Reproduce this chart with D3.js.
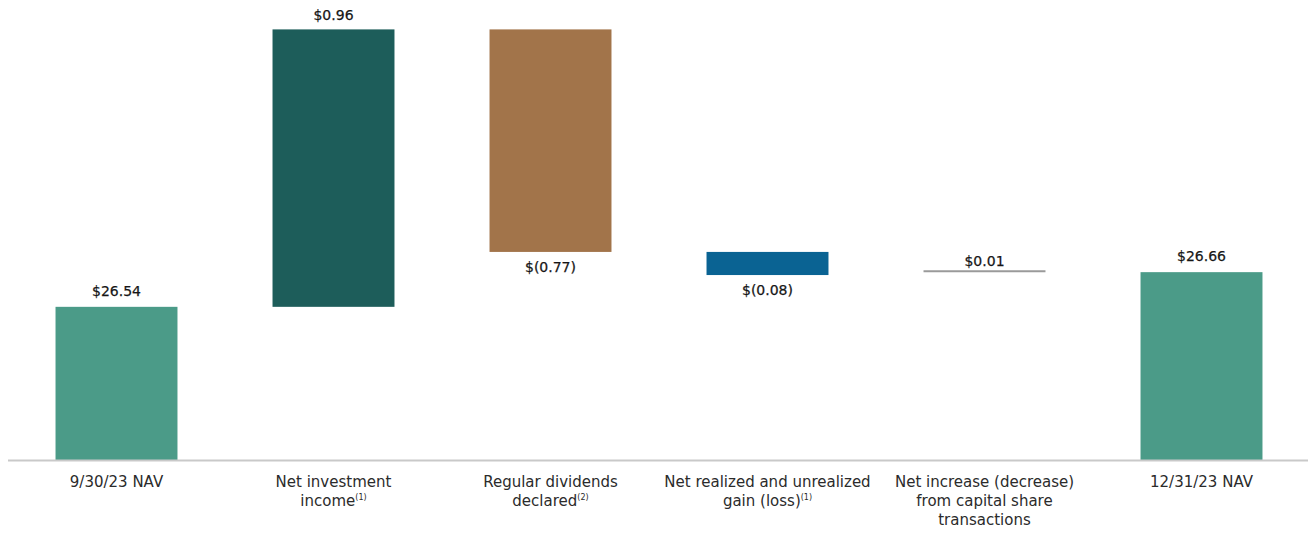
<!DOCTYPE html>
<html>
<head>
<meta charset="utf-8">
<script src="https://cdn.jsdelivr.net/npm/d3@7"></script>
<style>
  html, body { margin: 0; padding: 0; background: #ffffff; }
  svg { display: block; }
  text { font-family: "DejaVu Sans", Verdana, sans-serif; }
</style>
</head>
<body>
<svg id="chart" width="1308" height="535"></svg>
<script>
// ---- Data ----
const categoryLines = [
  ["9/30/23 NAV"],
  ["Net investment", "income"],
  ["Regular dividends", "declared"],
  ["Net realized and unrealized", "gain (loss)"],
  ["Net increase (decrease)", "from capital share", "transactions"],
  ["12/31/23 NAV"]
];
const footnotes = ["", "(1)", "(2)", "(1)", "", ""];
const values = [26.54, 0.96, -0.77, -0.08, 0.01, 26.66];
const kinds = ["total", "delta", "delta", "delta", "delta", "total"];
const valueLabels = ["$26.54", "$0.96", "$(0.77)", "$(0.08)", "$0.01", "$26.66"];
const barColors = ["#4b9b88", "#1d5d5a", "#a2744a", "#0a6393", "#9a9a9a", "#4b9b88"];

// ---- Layout ----
const W = 1308, H = 535;
const baselineY = 460;
const svg = d3.select("#chart");

// waterfall computation
let running = 0;
const bars = values.map((v, i) => {
  let start, end;
  if (kinds[i] === "total") { start = null; end = v; running = v; }
  else { start = running; end = running + v; running = end; }
  return { i, v, kind: kinds[i], start, end, label: valueLabels[i], color: barColors[i] };
});

const x = d3.scaleBand()
  .domain(d3.range(values.length))
  .range([8, 1310])
  .paddingInner(0.438)
  .paddingOuter(0.219);

const y = d3.scaleLinear()
  .domain([26.01, 27.50])
  .range([baselineY, 29.4]);

// bars
bars.forEach(b => {
  const x0 = x(b.i), bw = x.bandwidth();
  if (b.kind === "total") {
    svg.append("rect")
      .attr("x", x0).attr("width", bw)
      .attr("y", y(b.end)).attr("height", baselineY - y(b.end))
      .attr("fill", b.color);
  } else if (Math.abs(b.v) < 0.02) {
    svg.append("line")
      .attr("x1", x0).attr("x2", x0 + bw)
      .attr("y1", y(b.end) - 1).attr("y2", y(b.end) - 1)
      .attr("stroke", b.color).attr("stroke-width", 2);
  } else {
    const top = y(Math.max(b.start, b.end));
    const bot = y(Math.min(b.start, b.end));
    svg.append("rect")
      .attr("x", x0).attr("width", bw)
      .attr("y", top).attr("height", bot - top)
      .attr("fill", b.color);
  }
});

// axis baseline
svg.append("line")
  .attr("x1", 8).attr("x2", W)
  .attr("y1", baselineY + 0.5).attr("y2", baselineY + 0.5)
  .attr("stroke", "#c9c9c9").attr("stroke-width", 2);

// value labels
bars.forEach(b => {
  const cx = x(b.i) + x.bandwidth() / 2;
  let ty;
  if (b.kind === "total") ty = y(b.end) - 11;
  else if (Math.abs(b.v) < 0.02) ty = y(b.end) - 6;
  else if (b.v > 0) ty = y(b.end) - 9;
  else ty = y(b.end) + 20;
  svg.append("text")
    .attr("x", cx).attr("y", ty)
    .attr("text-anchor", "middle")
    .attr("font-size", 14)
    .attr("fill", "#161616")
    .attr("stroke", "#161616").attr("stroke-width", 0.25)
    .text(b.label);
});

// category labels
categoryLines.forEach((lines, i) => {
  const cx = x(i) + x.bandwidth() / 2;
  const t = svg.append("text")
    .attr("text-anchor", "middle")
    .attr("font-size", 15)
    .attr("fill", "#2b2b2b");
  lines.forEach((ln, j) => {
    const ts = t.append("tspan")
      .attr("x", cx)
      .attr("y", 487 + j * 19);
    ts.append("tspan").text(ln);
    if (j === lines.length - 1 && footnotes[i]) {
      ts.append("tspan")
        .attr("font-size", 8)
        .attr("dy", -6)
        .text(footnotes[i]);
    }
  });
});
</script>
</body>
</html>
